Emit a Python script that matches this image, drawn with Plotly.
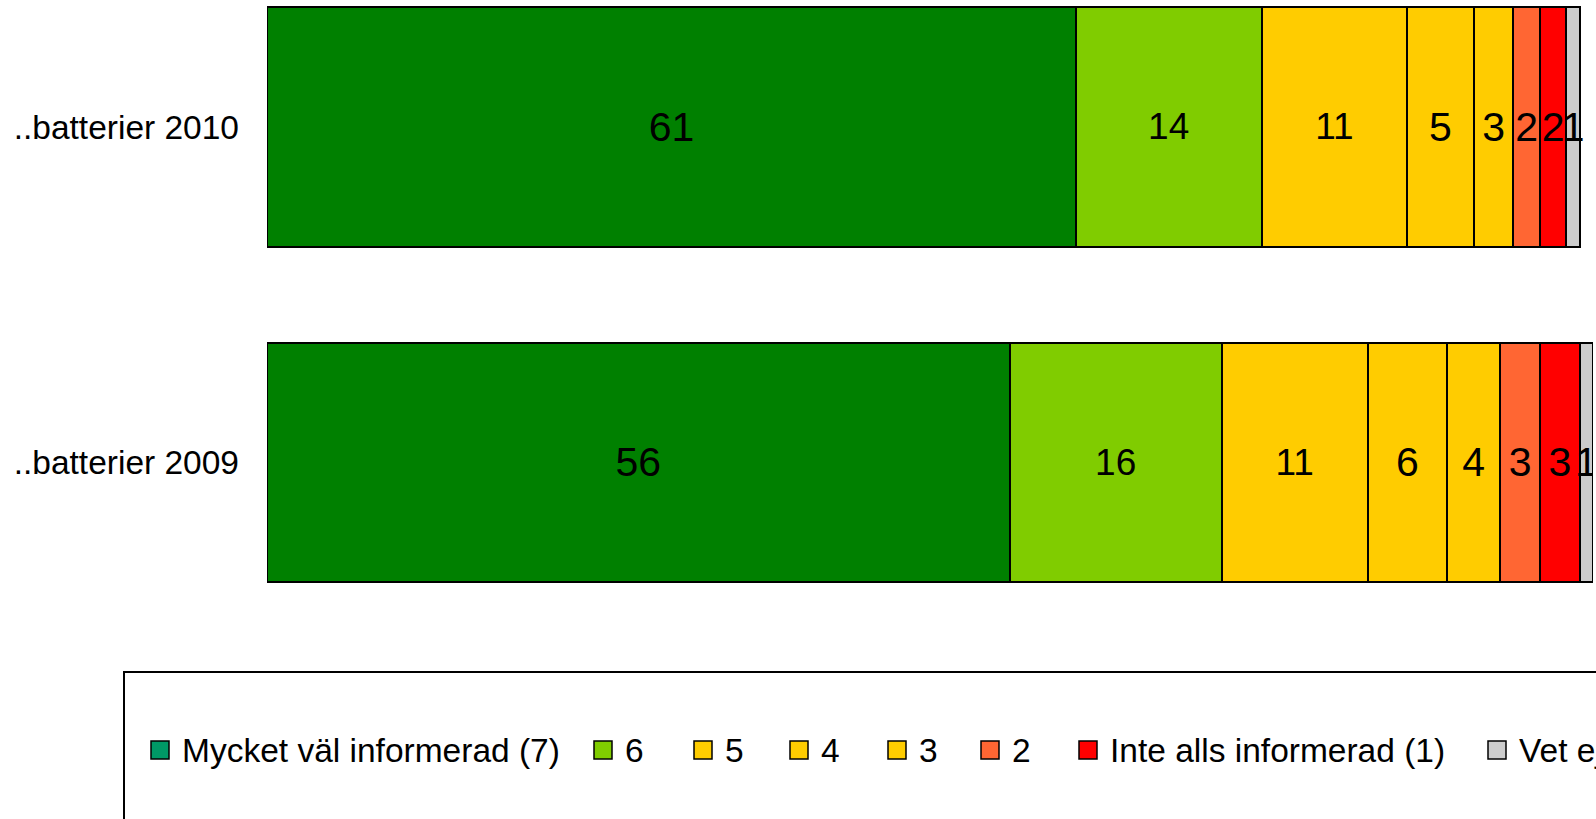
import plotly.graph_objects as go

# ---------------- data ----------------
categories = ["..batterier 2009", "..batterier 2010"]
series_names = ["Mycket väl informerad (7)", "6", "5", "4", "3", "2",
                "Inte alls informerad (1)", "Vet ej"]
v7 = [56, 61]
v6 = [16, 14]
v5 = [11, 11]
v4 = [6, 5]
v3 = [4, 3]
v2 = [3, 2]
v1 = [3, 2]
vet = [1, 1]
series_values = [v7, v6, v5, v4, v3, v2, v1, vet]

# ---------------- styles ----------------
bar_colors = ["#008000", "#80CC00", "#FFCC00", "#FFCC00", "#FFCC00",
              "#FF6633", "#FF0000", "#CCCCCC"]
legend_colors = ["#009966", "#80CC00", "#FFCC00", "#FFCC00", "#FFCC00",
                 "#FF6633", "#FF0000", "#CCCCCC"]
text_sizes = [41, 37, 37, 41, 41, 41, 41, 41]

W, H = 1596, 819
ML, MR, MT, MB = 267, 3, 0, 189
PW, PH = W - ML - MR, H - MT - MB


def px_to_paper_x(px):  # px in page coordinates
    return (px - ML) / PW


def px_to_paper_y(py):
    return (H - MB - py) / PH


fig = go.Figure()
for name, vals, col, ts in zip(series_names, series_values, bar_colors, text_sizes):
    fig.add_trace(go.Bar(
        y=categories, x=vals, name=name, orientation="h",
        marker=dict(color=col, line=dict(color="black", width=2)),
        text=[str(v) for v in vals], textposition="inside",
        insidetextanchor="middle", textangle=0, constraintext="none",
        textfont=dict(family="Liberation Sans, Arial, sans-serif", size=ts, color="black"),
        width=0.715, showlegend=False, hoverinfo="skip",
    ))

# ---------------- manual legend ----------------
legend_px = [151, 594, 694, 790, 888, 981, 1079, 1488]
legend_cy = 750
sq = 18
shapes = [dict(type="rect", xref="paper", yref="paper",
               x0=px_to_paper_x(124), x1=px_to_paper_x(1700),
               y0=px_to_paper_y(672), y1=px_to_paper_y(900),
               line=dict(color="black", width=2), fillcolor="rgba(0,0,0,0)")]
annotations = []
for name, col, lx in zip(series_names, legend_colors, legend_px):
    shapes.append(dict(type="rect", xref="paper", yref="paper",
                       x0=px_to_paper_x(lx), x1=px_to_paper_x(lx + sq),
                       y0=px_to_paper_y(legend_cy - sq / 2), y1=px_to_paper_y(legend_cy + sq / 2),
                       line=dict(color="black", width=1.5), fillcolor=col))
    annotations.append(dict(xref="paper", yref="paper",
                            x=px_to_paper_x(lx + 29), y=px_to_paper_y(legend_cy),
                            xanchor="left", yanchor="middle", showarrow=False,
                            text=name,
                            font=dict(family="Liberation Sans, Arial, sans-serif",
                                      size=33.5, color="black")))

# plot area spans page y 0..630 ; bar centres at 127 and 462.5
fig.update_layout(
    barmode="stack",
    width=W, height=H,
    margin=dict(l=ML, r=MR, t=MT, b=MB, pad=0),
    paper_bgcolor="white", plot_bgcolor="white",
    showlegend=False,
    xaxis=dict(range=[0, 100], visible=False, fixedrange=True),
    yaxis=dict(type="category", range=[-0.4993, 1.3785], showgrid=False,
               zeroline=False, showline=False, ticks="", fixedrange=True,
               ticklabelstandoff=27, automargin=False,
               tickfont=dict(family="Liberation Sans, Arial, sans-serif", size=33.5, color="black")),
    shapes=shapes, annotations=annotations,
    font=dict(family="Liberation Sans, Arial, sans-serif"),
)

fig.write_html("out.html", config={"displayModeBar": False},
               post_script="document.body.style.margin='0px';")
